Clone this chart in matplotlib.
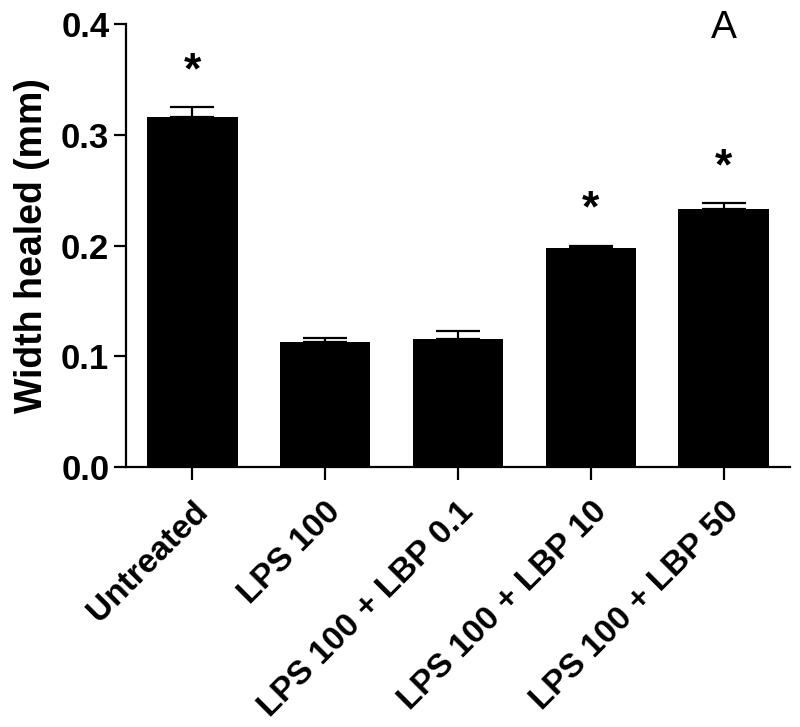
import numpy as np
import matplotlib
matplotlib.use('Agg')
import matplotlib.pyplot as plt

plt.rcParams['font.family'] = ['Liberation Sans', 'DejaVu Sans']

groups = ['Untreated', 'LPS 100', 'LPS 100 + LBP 0.1', 'LPS 100 + LBP 10', 'LPS 100 + LBP 50']
width_healed = [0.316, 0.113, 0.116, 0.198, 0.233]
sem = [0.009, 0.0035, 0.007, 0.002, 0.005]
significant = [True, False, False, True, True]

fig = plt.figure(figsize=(8, 7.27), dpi=100)
ax = fig.add_axes([0.1575, 0.3576, 0.83, 0.6094])

x = np.arange(len(groups))
ax.bar(x, width_healed, width=0.68, color='black', zorder=2)
ax.errorbar(x, width_healed, yerr=[np.zeros(len(sem)), sem], fmt='none',
            ecolor='black', elinewidth=1.6, capsize=16, capthick=1.6, zorder=1)

# significance stars
for xi, v, e, s in zip(x, width_healed, sem, significant):
    if s:
        ax.text(xi, v + e + 0.032, '*', ha='center', va='center',
                fontsize=32, fontweight='bold')

ax.set_xlim(-0.5, 4.5)
ax.set_ylim(0, 0.4)
ax.set_yticks([0.0, 0.1, 0.2, 0.3, 0.4])
ax.set_yticklabels(['0.0', '0.1', '0.2', '0.3', '0.4'], fontsize=25, fontweight='bold')
ax.set_xticks(x)
ax.set_xticklabels(groups, rotation=45, ha='right', rotation_mode='anchor',
                   fontsize=24, fontweight='bold')
ax.set_ylabel('Width healed (mm)', fontsize=27, fontweight='bold', labelpad=8)

for side in ['top', 'right']:
    ax.spines[side].set_visible(False)
for side in ['left', 'bottom']:
    ax.spines[side].set_linewidth(1.6)
ax.tick_params(axis='both', width=1.6, length=9, direction='out')
ax.tick_params(axis='y', pad=3)
ax.tick_params(axis='x', pad=12)

fig.text(0.905, 0.962, 'A', fontsize=28, ha='center', va='center')

fig.savefig('out.png', dpi=100)
